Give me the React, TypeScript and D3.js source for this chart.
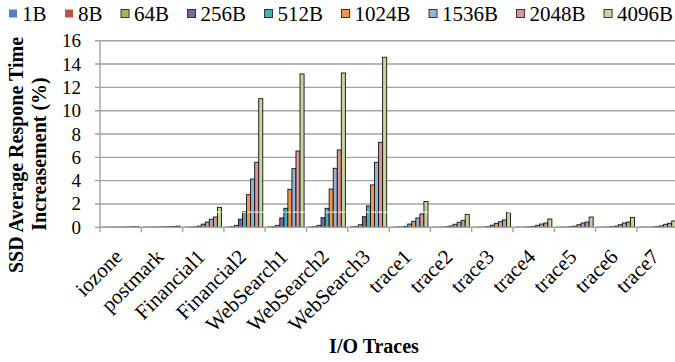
import React from 'react';
import * as d3 from 'd3';

// I/O traces on the x axis
const categories = [
  'iozone', 'postmark', 'Financial1', 'Financial2', 'WebSearch1', 'WebSearch2', 'WebSearch3',
  'trace1', 'trace2', 'trace3', 'trace4', 'trace5', 'trace6', 'trace7',
];

// Request sizes (one bar per size inside each trace group)
const sizes = ['1B', '8B', '64B', '256B', '512B', '1024B', '1536B', '2048B', '4096B'];
const sizeColors = ['#4F81BD', '#C0504D', '#9BBB59', '#8064A2', '#4BACC6', '#F79646', '#95B3D7', '#D99694', '#C3D69B'];
const outlinedLegend = [false, false, true, true, true, true, true, true, true];

// Average response time increase (%) per trace, one array per request size
const inc1B = [0.01, 0.01, 0.01, 0.02, 0.03, 0.03, 0.03, 0.01, 0.01, 0.01, 0.01, 0.01, 0.01, 0.01];
const inc8B = [0.01, 0.01, 0.02, 0.04, 0.05, 0.05, 0.06, 0.02, 0.01, 0.01, 0.01, 0.01, 0.01, 0.01];
const inc64B = [0.01, 0.02, 0.04, 0.17, 0.17, 0.17, 0.22, 0.03, 0.02, 0.02, 0.01, 0.02, 0.02, 0.01];
const inc256B = [0.01, 0.02, 0.1, 0.69, 0.8, 0.82, 0.91, 0.08, 0.05, 0.06, 0.04, 0.05, 0.05, 0.03];
const inc512B = [0.02, 0.03, 0.27, 1.34, 1.63, 1.63, 1.83, 0.28, 0.11, 0.18, 0.08, 0.1, 0.1, 0.06];
const inc1024B = [0.02, 0.04, 0.45, 2.8, 3.26, 3.28, 3.63, 0.51, 0.26, 0.34, 0.17, 0.22, 0.22, 0.12];
const inc1536B = [0.03, 0.05, 0.69, 4.14, 5.03, 5.06, 5.57, 0.8, 0.43, 0.48, 0.28, 0.37, 0.37, 0.26];
const inc2048B = [0.04, 0.07, 0.88, 5.57, 6.54, 6.63, 7.29, 1.14, 0.6, 0.63, 0.37, 0.45, 0.45, 0.34];
const inc4096B = [0.05, 0.1, 1.71, 11.03, 13.15, 13.23, 14.58, 2.21, 1.11, 1.25, 0.71, 0.88, 0.85, 0.54];

const seriesValues = [inc1B, inc8B, inc64B, inc256B, inc512B, inc1024B, inc1536B, inc2048B, inc4096B];

const yTicks = [0, 2, 4, 6, 8, 10, 12, 14, 16];
const markerLevel = 1.3;

const W = 675;
const H = 362;
const FONT = "'Liberation Serif', 'Times New Roman', serif";

const plotLeft = 100;
const plotRight = 678.2;
const plotTop = 40.7;
const plotBottom = 227.3;

function measure(text: string, size: number): number {
  const ctx = document.createElement('canvas').getContext('2d');
  if (!ctx) return text.length * size * 0.5;
  ctx.font = `${size}px 'Liberation Serif'`;
  return ctx.measureText(text).width;
}

export default function App() {
  const x = d3.scaleBand<string>().domain(categories).range([plotLeft, plotRight]).paddingInner(0).paddingOuter(0);
  const xInner = d3.scaleBand<string>().domain(sizes).range([0, x.bandwidth()]).paddingInner(0).paddingOuter(0.6);
  const y = d3.scaleLinear().domain([0, 16]).range([plotBottom, plotTop]);

  // legend layout: square, gap, label, then spacing to next item
  const legendSize = 21;
  const legendItems: { x: number; label: string; color: string; outlined: boolean }[] = [];
  let lx = 9;
  sizes.forEach((s, i) => {
    legendItems.push({ x: lx, label: s, color: sizeColors[i], outlined: outlinedLegend[i] });
    lx += 8 + 5 + measure(s, legendSize) + 18.5;
  });

  const boundaries = d3.range(categories.length + 1).map((i) => plotLeft + i * x.step());

  return (
    <svg width={W} height={H} style={{ position: 'absolute', left: 0, top: 0, background: '#fff', fontFamily: FONT }}>
      {/* gridlines */}
      {yTicks.slice(1).map((t) => (
        <line key={t} x1={plotLeft - 5} x2={W} y1={y(t)} y2={y(t)} stroke="#a3a3a3" strokeWidth={1.4} />
      ))}
      <line x1={plotLeft - 5} x2={plotLeft} y1={y(0)} y2={y(0)} stroke="#a3a3a3" strokeWidth={1.4} />

      {/* bars */}
      {seriesValues.map((vals, si) => (
        <g key={sizes[si]}>
          {vals.map((v, ci) => {
            const bx = (x(categories[ci]) as number) + (xInner(sizes[si]) as number);
            return (
              <rect
                key={ci}
                x={bx}
                y={y(v)}
                width={xInner.bandwidth()}
                height={y(0) - y(v)}
                fill={sizeColors[si]}
                stroke="#111"
                strokeWidth={0.9}
              />
            );
          })}
        </g>
      ))}

      {/* light marker line crossing the bars */}
      <line
        x1={plotLeft - 2}
        x2={W}
        y1={y(markerLevel)}
        y2={y(markerLevel)}
        stroke="#fff"
        strokeWidth={1}
        strokeDasharray="5,1.5"
      />

      {/* axes */}
      <line x1={plotLeft} x2={plotLeft} y1={plotTop} y2={plotBottom} stroke="#a3a3a3" strokeWidth={1.4} />
      <line x1={plotLeft} x2={W} y1={plotBottom} y2={plotBottom} stroke="#a3a3a3" strokeWidth={1.4} />
      {boundaries.map((bx, i) => (
        <line key={i} x1={bx} x2={bx} y1={plotBottom} y2={plotBottom + 5} stroke="#a3a3a3" strokeWidth={1.4} />
      ))}

      {/* y tick labels */}
      {yTicks.map((t) => (
        <text key={t} x={81} y={y(t) + 6.5} textAnchor="end" fontSize={19} fill="#000">
          {t}
        </text>
      ))}

      {/* x category labels */}
      {categories.map((c) => {
        const cx = (x(c) as number) + x.bandwidth() / 2 + 3;
        const cy = 258;
        return (
          <text key={c} transform={`translate(${cx},${cy}) rotate(-45)`} textAnchor="end" fontSize={21} fill="#000">
            {c}
          </text>
        );
      })}

      {/* axis titles */}
      <text x={374} y={353} textAnchor="middle" fontSize={20} fontWeight="bold" fill="#000">
        I/O Traces
      </text>
      <text transform="translate(23,155) rotate(-90)" textAnchor="middle" fontSize={20} fontWeight="bold" fill="#000">
        SSD Average Respone Time
      </text>
      <text transform="translate(45.5,154) rotate(-90)" textAnchor="middle" fontSize={20} fontWeight="bold" fill="#000">
        Increasement (%)
      </text>

      {/* legend */}
      {legendItems.map((it) => (
        <g key={it.label}>
          <rect
            x={it.x}
            y={9.5}
            width={8}
            height={8}
            fill={it.color}
            stroke={it.outlined ? '#333' : 'none'}
            strokeWidth={1}
          />
          <text x={it.x + 13} y={20.7} fontSize={legendSize} fill="#000">
            {it.label}
          </text>
        </g>
      ))}
    </svg>
  );
}
